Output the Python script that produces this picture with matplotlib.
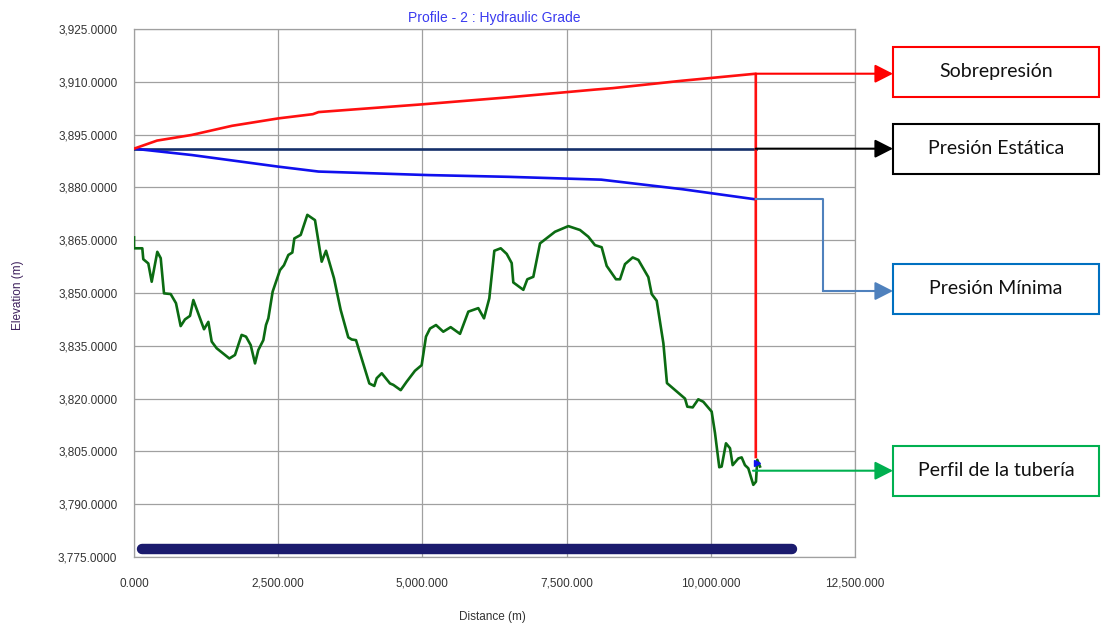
import matplotlib
matplotlib.use("Agg")
import matplotlib.pyplot as plt
from matplotlib.lines import Line2D
from matplotlib.patches import FancyArrowPatch, Rectangle
from matplotlib.ticker import FuncFormatter, MultipleLocator

# ---------------- data ----------------
profile_x = [0, 0, 144, 161, 248, 307, 404, 463, 520, 636, 728, 809, 884, 971, 1029, 1214, 1289,
             1347, 1433, 1653, 1751, 1866, 1942, 2023, 2098, 2155, 2242, 2288, 2329, 2404, 2531,
             2600, 2676, 2745, 2780, 2890, 3005, 3138, 3254, 3329, 3467, 3583, 3715, 3774, 3849,
             4080, 4166, 4208, 4295, 4438, 4496, 4624, 4727, 4871, 4987, 5062, 5132, 5236, 5362,
             5490, 5652, 5796, 5969, 6068, 6160, 6247, 6358, 6462, 6548, 6576, 6750, 6819, 6923,
             7039, 7299, 7530, 7732, 7876, 7992, 8108, 8195, 8356, 8426, 8512, 8646, 8744, 8917,
             8975, 9062, 9178, 9240, 9553, 9593, 9686, 9783, 9870, 10015, 10073, 10147, 10188,
             10263, 10333, 10379, 10477, 10535, 10592, 10650, 10737, 10783, 10806, 10853]
profile_y = [3865.8, 3862.7, 3862.7, 3859.6, 3858.4, 3853.2, 3861.7, 3859.9, 3849.9, 3849.7,
             3847.1, 3840.6, 3842.5, 3843.5, 3848.0, 3839.7, 3841.8, 3836.2, 3834.3, 3831.4,
             3832.4, 3838.1, 3837.6, 3835.2, 3830.0, 3833.8, 3836.6, 3840.9, 3842.8, 3850.4,
             3856.5, 3857.9, 3860.8, 3861.5, 3865.5, 3866.5, 3872.2, 3870.7, 3858.9, 3862.0,
             3854.2, 3845.2, 3837.4, 3836.8, 3836.6, 3824.3, 3823.6, 3825.8, 3827.2, 3824.3,
             3823.9, 3822.4, 3824.8, 3827.9, 3829.5, 3837.6, 3839.9, 3840.9, 3839.0, 3840.3,
             3838.4, 3844.7, 3845.7, 3842.8, 3848.5, 3862.0, 3862.7, 3861.1, 3858.5, 3853.0,
             3850.9, 3853.9, 3854.6, 3864.1, 3867.4, 3869.0, 3867.9, 3866.0, 3863.6, 3863.0,
             3857.7, 3853.9, 3853.9, 3858.2, 3860.1, 3859.4, 3854.5, 3849.7, 3847.8, 3835.7,
             3824.4, 3820.0, 3817.7, 3817.5, 3819.8, 3819.1, 3816.3, 3810.2, 3800.5, 3800.7,
             3807.3, 3805.9, 3801.1, 3803.0, 3803.3, 3801.1, 3800.2, 3795.5, 3796.4, 3802.6,
             3800.7]

surge_x = [0, 400, 1000, 1700, 2500, 3100, 3200, 5000, 6500, 8000, 8300, 9500, 10780, 10780]
surge_y = [3891.0, 3893.3, 3894.9, 3897.5, 3899.6, 3900.8, 3901.4, 3903.6, 3905.6, 3907.8,
           3908.2, 3910.3, 3912.3, 3803.4]

static_x = [0, 10780]
static_y = [3891.0, 3891.0]

minimum_x = [0, 1000, 2500, 3200, 5100, 6500, 8100, 9500, 10780]
minimum_y = [3891.0, 3889.2, 3885.9, 3884.5, 3883.5, 3883.0, 3882.2, 3879.5, 3876.6]

nodes_x = [140, 11410]
nodes_y = [3777.3, 3777.3]

x_ticks = [0, 2500, 5000, 7500, 10000, 12500]
y_ticks = [3775, 3790, 3805, 3820, 3835, 3850, 3865, 3880, 3895, 3910, 3925]

labels = ["Sobrepresión", "Presión Estática", "Presión Mínima", "Perfil de la tubería"]

# ---------------- figure ----------------
W, H = 1101, 628
fig = plt.figure(figsize=(W / 100, H / 100), dpi=100)
fig.patch.set_facecolor("white")

def fp(x, y):
    """reference pixel (top-left origin) -> figure fraction"""
    return (x / W, 1 - y / H)

L, R, T, B = 134, 855, 29, 557
ax = fig.add_axes([L / W, 1 - B / H, (R - L) / W, (B - T) / H])

ax.set_xlim(0, 12500)
ax.set_ylim(3775, 3925)
ax.set_xticks(x_ticks)
ax.set_yticks(y_ticks)
ax.xaxis.set_major_formatter(FuncFormatter(lambda v, p: f"{v:,.3f}"))
ax.yaxis.set_major_formatter(FuncFormatter(lambda v, p: f"{v:,.4f}"))
ax.tick_params(length=0, labelsize=8.5, colors="#333333")
ax.tick_params(axis="y", pad=12)
ax.tick_params(axis="x", pad=15)
for lab in ax.get_xticklabels() + ax.get_yticklabels():
    lab.set_family("Liberation Sans")
ax.grid(True, color="#a0a0a0", linewidth=0.9)
ax.set_axisbelow(True)
for s in ax.spines.values():
    s.set_color("#a0a0a0")
    s.set_linewidth(0.9)

lw = 1.9
ax.plot(nodes_x, nodes_y, color="#1b1b6e", linewidth=7.5, solid_capstyle="round", zorder=2)
ax.plot(profile_x, profile_y, color="#0b6b12", linewidth=lw, zorder=3)
ax.plot(static_x, static_y, color="#152f6a", linewidth=lw, zorder=4)
ax.plot(minimum_x, minimum_y, color="#1010ee", linewidth=lw, zorder=5)
ax.plot(surge_x, surge_y, color="#ff1010", linewidth=lw, zorder=6)
ax.plot([surge_x[-1] + 25], [surge_y[-1] - 1.6], marker=">", color="#1010ee",
        markersize=5, zorder=7)

ax.set_title("Profile - 2 : Hydraulic Grade", fontsize=10, color="#3a3af0",
             family="Liberation Sans", pad=5)
fig.text(492 / W, 1 - 617 / H, "Distance (m)", ha="center", va="center",
         fontsize=8.5, color="#333333", family="Liberation Sans")
fig.text(18 / W, 1 - 295 / H, "Elevation (m)", ha="center", va="center", rotation=90,
         fontsize=8.5, color="#3d1f5c", family="Liberation Sans")

# ---------------- annotations ----------------
to_fig = ax.transData + fig.transFigure.inverted()

def data_px(x, y):
    fx, fy = to_fig.transform((x, y))
    return fx * W, (1 - fy) * H

box_left, box_right = 893, 1099
boxes = [
    (47, 97, "#ff0000"),
    (124, 174, "#000000"),
    (264, 314, "#0070c0"),
    (446, 496, "#00b050"),
]
for (top, bot, col), text in zip(boxes, labels):
    x0, y0 = fp(box_left, bot)
    x1, y1 = fp(box_right, top)
    fig.add_artist(Rectangle((x0, y0), x1 - x0, y1 - y0, transform=fig.transFigure,
                             fill=False, edgecolor=col, linewidth=1.5))
    cx, cy = fp((box_left + box_right) / 2, (top + bot) / 2)
    fig.text(cx, cy, text, ha="center", va="center", fontsize=14, family="Lato",
             color="#111111")

def arrow(points, color):
    pts = [fp(*p) for p in points]
    if len(pts) > 2:
        fig.add_artist(Line2D([p[0] for p in pts[:-1]], [p[1] for p in pts[:-1]],
                              transform=fig.transFigure, color=color, linewidth=1.5))
    fig.add_artist(FancyArrowPatch(pts[-2], pts[-1], transform=fig.transFigure,
                                   arrowstyle="-|>,head_length=0.55,head_width=0.28",
                                   mutation_scale=20, color=color, linewidth=1.5,
                                   shrinkA=0, shrinkB=0))

sx, sy = data_px(surge_x[-2], surge_y[-2])
arrow([(sx, sy), (box_left, sy)], "#ff0000")
tx, ty = data_px(static_x[-1], static_y[-1])
arrow([(tx, ty), (box_left, ty)], "#000000")
mx, my = data_px(minimum_x[-1], minimum_y[-1])
arrow([(mx, my), (823, my), (823, 291), (box_left, 291)], "#4f81bd")
arrow([(753, 470.7), (box_left, 470.7)], "#00b050")

fig.savefig("out.png", dpi=100, facecolor="white")
